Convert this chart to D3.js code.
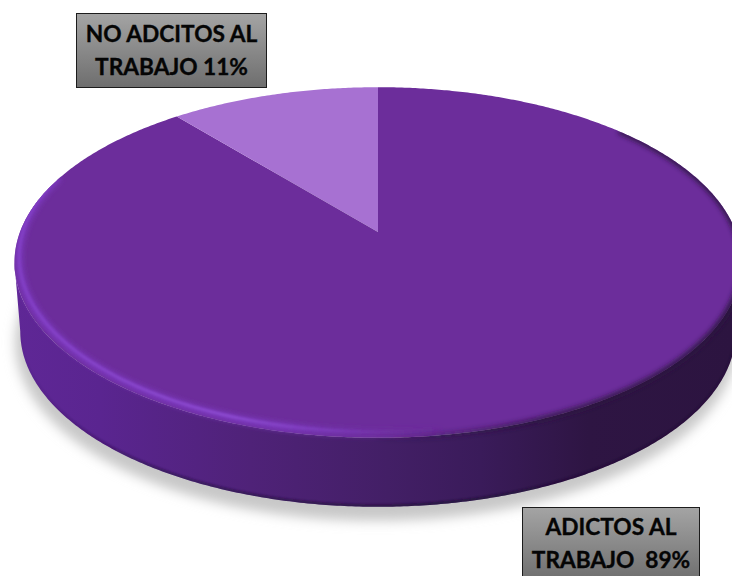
<!DOCTYPE html>
<html>
<head>
<meta charset="utf-8">
<script src="https://cdn.jsdelivr.net/npm/d3@7"></script>
<style>
  html, body { margin: 0; padding: 0; background: #fff; }
  svg { display: block; }
</style>
</head>
<body>
<svg id="chart" width="732" height="576"></svg>
<script>
const categories = ["ADICTOS AL TRABAJO", "NO ADCITOS AL TRABAJO"];
const values = [89, 11];
const sliceColors = ["#6c2d9b", "#a771d2"];
const labelLines = [["ADICTOS AL", "TRABAJO  89%"], ["NO ADCITOS AL", "TRABAJO 11%"]];

const svg = d3.select("#chart");
const defs = svg.append("defs");

// Tilted disc: a unit circle seen through a perspective divide
const apex = { x: 378, y: 232 };
const tilt = { rx: 358, ry: 170, k: -0.174 };
const thickness = 69;

function project(angle, depth = 0) {
  const u = Math.sin(angle), v = -Math.cos(angle);
  const w = 1 + tilt.k * v;
  const shrink = 1 - 0.016 * Math.max(depth, 0) / thickness;
  return [
    apex.x + shrink * tilt.rx * u / w,
    apex.y + tilt.ry * v / w + depth
  ];
}

// Ring set in from the outline of the top face
function inset(angle, raise, scale) {
  const [x, y] = project(angle, -raise);
  return [apex.x + (x - apex.x) * scale, y];
}

const line = d3.line();
const step = Math.PI / 360;
const sweep = (a, b) => d3.range(a, b, step).concat([b]);
const fullCircle = sweep(0, 2 * Math.PI);
const rimPath = depth => line(fullCircle.map(a => project(a, depth))) + "Z";

const pie = d3.pie().sort(null).startAngle(0).endAngle(2 * Math.PI);
const slices = pie(values);

function horizontalGradient(id, stops) {
  const g = defs.append("linearGradient").attr("id", id)
    .attr("gradientUnits", "userSpaceOnUse")
    .attr("x1", 14).attr("x2", 732).attr("y1", 0).attr("y2", 0);
  stops.forEach(([o, c, a]) => g.append("stop")
    .attr("offset", o).attr("stop-color", c).attr("stop-opacity", a === undefined ? 1 : a));
}

// Wall, lit from the left
horizontalGradient("wall", [[0, "#5f2796"], [0.12, "#5a2590"], [0.33, "#4f2278"], [0.52, "#431f66"],
  [0.65, "#3a1b5a"], [0.8, "#2e1543"], [1, "#2c1440"]]);
// Lit part of the lip, gone by the middle of the disc
horizontalGradient("lipLit", [[0, "#7a38bc"], [0.38, "#7a38bc"], [0.6, "#6c2d9b", 0]]);
// Narrow highlight on the crest of the lip
horizontalGradient("lipCrest", [[0, "#8340c6"], [0.3, "#8e4cd2"], [0.45, "#7e3cbc", 0.8], [0.6, "#6c2d9b", 0]]);
// Shaded part of the lip towards the right
horizontalGradient("lipShade", [[0.5, "#2c1440", 0], [0.75, "#2c1440", 0.9], [1, "#2c1440", 1]]);
// Dark seam on the underside of the wall
horizontalGradient("seam", [[0, "#2a1045", 0], [0.2, "#2a1045", 0.6], [0.6, "#1e0c32", 0.7], [1, "#1e0c32", 0.3]]);

const blur = (id, sd) => defs.append("filter").attr("id", id)
  .attr("x", "-10%").attr("y", "-10%").attr("width", "120%").attr("height", "120%")
  .append("feGaussianBlur").attr("stdDeviation", sd);
blur("soft", 6);
blur("lipBlur", 2.4);
blur("crestBlur", 1.1);
blur("seamBlur", 1);

// Wall runs between the widest points of the projected circle, where v = -k
const sideStart = Math.PI - Math.acos(-tilt.k), sideEnd = Math.PI + Math.acos(-tilt.k);
const wallPath = line(
  sweep(sideStart, sideEnd).map(a => project(a, 0))
    .concat(sweep(sideStart, sideEnd).reverse().map(a => project(a, thickness)))
) + "Z";

// Silhouette of the whole solid, used to hold the lip and seam inside it
const solidClip = defs.append("clipPath").attr("id", "solid");
solidClip.append("path").attr("d", rimPath(0));
solidClip.append("path").attr("d", wallPath);

// Cast shadow
svg.append("path")
  .attr("d", rimPath(thickness))
  .attr("transform", "translate(-2,11)")
  .attr("fill", "#c8c8c8")
  .attr("stroke", "#c8c8c8")
  .attr("stroke-width", 6)
  .attr("filter", "url(#soft)");

// Side wall
svg.append("path")
  .attr("d", wallPath)
  .attr("fill", "url(#wall)");

// Top face slices
svg.append("g").selectAll("path")
  .data(slices)
  .join("path")
  .attr("d", d => line([[apex.x, apex.y]].concat(sweep(d.startAngle, d.endAngle).map(a => project(a)))) + "Z")
  .attr("fill", (d, i) => sliceColors[i]);

// Relief: shaded lip, lit lip, crest highlight, underside seam
const relief = svg.append("g").attr("clip-path", "url(#solid)");

relief.append("path")
  .attr("d", line(sweep(Math.PI * 0.27, Math.PI * 1.1).map(a => project(a, 0))))
  .attr("fill", "none")
  .attr("stroke", "url(#lipShade)")
  .attr("stroke-width", 5)
  .attr("filter", "url(#lipBlur)");

relief.append("path")
  .attr("d", line(sweep(Math.PI * 0.9, Math.PI * 1.6).map(a => inset(a, 5, 0.988))))
  .attr("fill", "none")
  .attr("stroke", "url(#lipLit)")
  .attr("stroke-width", 8)
  .attr("filter", "url(#lipBlur)");

relief.append("path")
  .attr("d", line(sweep(Math.PI * 0.9, Math.PI * 1.58).map(a => inset(a, 6, 0.987))))
  .attr("fill", "none")
  .attr("stroke", "url(#lipCrest)")
  .attr("stroke-width", 2.5)
  .attr("filter", "url(#crestBlur)");

relief.append("path")
  .attr("d", line(sweep(sideStart, sideEnd).map(a => project(a, thickness - 1))))
  .attr("fill", "none")
  .attr("stroke", "url(#seam)")
  .attr("stroke-width", 3)
  .attr("filter", "url(#seamBlur)");

// Callout boxes
const boxGrad = defs.append("linearGradient").attr("id", "box")
  .attr("x1", 0).attr("x2", 0).attr("y1", 0).attr("y2", 1);
[[0, "#a4a4a4"], [1, "#6e6e6e"]].forEach(([o, c]) =>
  boxGrad.append("stop").attr("offset", o).attr("stop-color", c));

const boxes = [
  { x: 522, y: 507, w: 177, h: 74, baselines: [535, 568] },
  { x: 76, y: 13, w: 190, h: 74, baselines: [42, 75] }
];

const callouts = svg.append("g").selectAll("g")
  .data(categories)
  .join("g")
  .attr("aria-label", d => d);

callouts.append("rect")
  .attr("x", (d, i) => boxes[i].x + 0.5)
  .attr("y", (d, i) => boxes[i].y + 0.5)
  .attr("width", (d, i) => boxes[i].w)
  .attr("height", (d, i) => boxes[i].h)
  .attr("fill", "url(#box)")
  .attr("stroke", "#1c1c1c")
  .attr("stroke-width", 1);

callouts.each(function (d, i) {
  d3.select(this).selectAll("text")
    .data(labelLines[i])
    .join("text")
    .attr("x", boxes[i].x + boxes[i].w / 2 + 0.5)
    .attr("y", (t, j) => boxes[i].baselines[j])
    .attr("text-anchor", "middle")
    .style("white-space", "pre")
    .attr("font-family", "Lato, 'Open Sans', sans-serif")
    .attr("font-weight", 700)
    .attr("font-size", 22.7)
    .attr("fill", "#050505")
    .attr("stroke", "#050505")
    .attr("stroke-width", 0.35)
    .text(t => t);
});
</script>
</body>
</html>
